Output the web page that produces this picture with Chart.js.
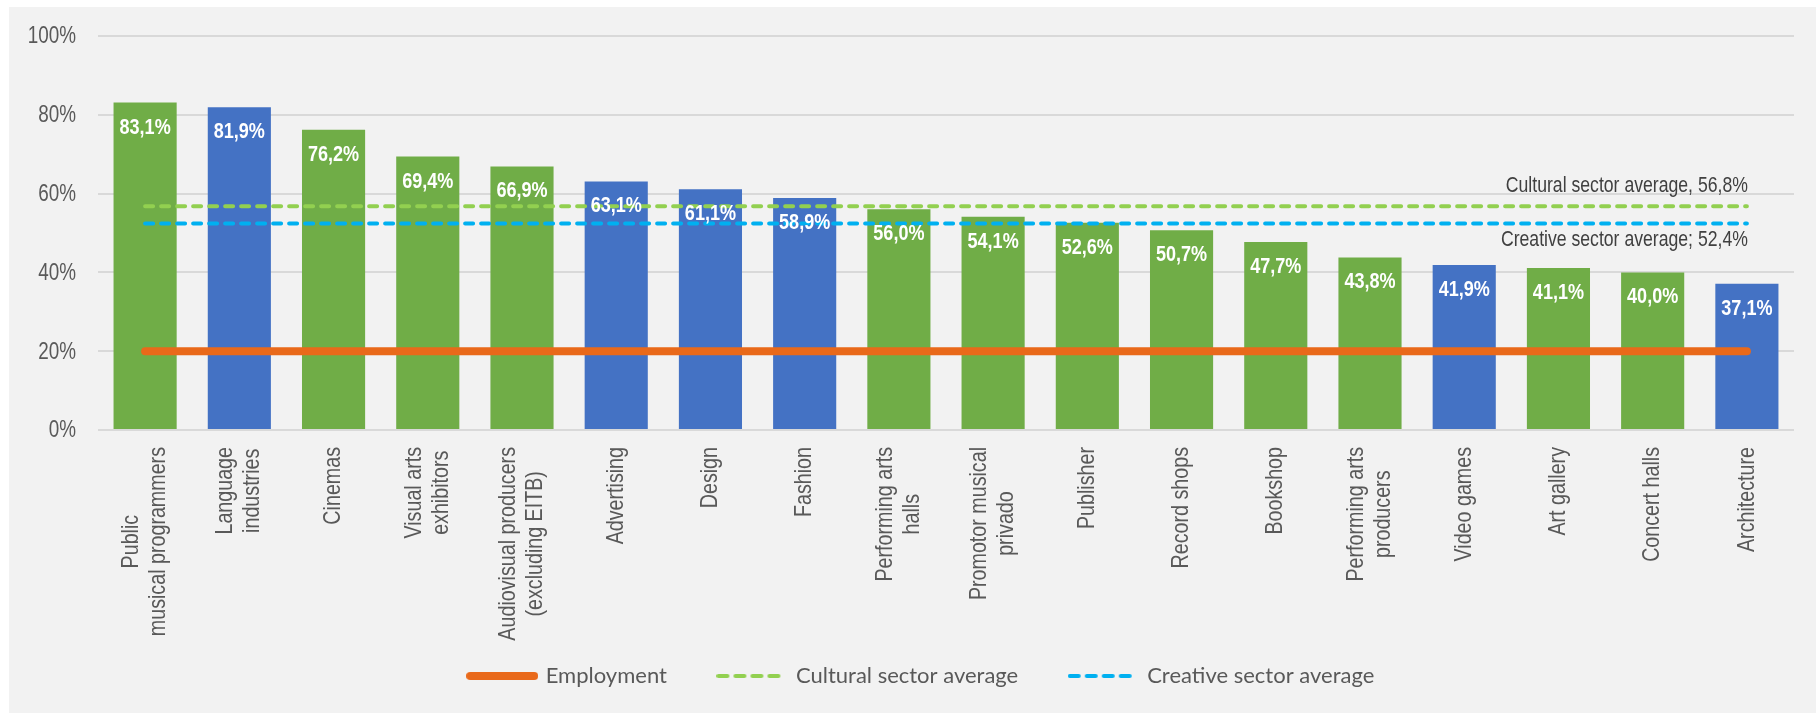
<!DOCTYPE html>
<html><head><meta charset="utf-8">
<script src="https://cdn.jsdelivr.net/npm/chart.js@4.4.0/dist/chart.umd.min.js"></script>
<style>html,body{margin:0;padding:0;background:#fff;} canvas{display:block;}</style>
</head><body>
<canvas id="c" width="1816" height="713"></canvas>
<script>
const categories = [["Public","musical programmers"],["Language","industries"],["Cinemas"],["Visual arts","exhibitors"],["Audiovisual producers","(excluding EITB)"],["Advertising"],["Design"],["Fashion"],["Performing arts","halls"],["Promotor musical","privado"],["Publisher"],["Record shops"],["Bookshop"],["Performing arts","producers"],["Video games"],["Art gallery"],["Concert halls"],["Architecture"]];
const sectorValues = [83.1,81.9,76.2,69.4,66.9,63.1,61.1,58.9,56.0,54.1,52.6,50.7,47.7,43.8,41.9,41.1,40.0,37.1];
const sectorType = ["cultural","creative","cultural","cultural","cultural","creative","creative","creative","cultural","cultural","cultural","cultural","cultural","cultural","creative","cultural","cultural","creative"];
const employment = [20,20,20,20,20,20,20,20,20,20,20,20,20,20,20,20,20,20];
const culturalAverage = [56.8,56.8,56.8,56.8,56.8,56.8,56.8,56.8,56.8,56.8,56.8,56.8,56.8,56.8,56.8,56.8,56.8,56.8];
const creativeAverage = [52.4,52.4,52.4,52.4,52.4,52.4,52.4,52.4,52.4,52.4,52.4,52.4,52.4,52.4,52.4,52.4,52.4,52.4];
const yTicks = [0,20,40,60,80,100];
const culturalLabel = "Cultural sector average, 56,8%";
const creativeLabel = "Creative sector average; 52,4%";

const SANS = '"Liberation Sans", Arial, sans-serif';
const SQUEEZE = 0.82; // emulate a narrow face
const typeColor = {cultural: '#70AD47', creative: '#4472C4'};
const fmt = v => v.toFixed(1).replace('.', ',') + '%';

function narrowText(ctx, text, x, y, align) {
  ctx.save();
  ctx.translate(x, y);
  ctx.scale(SQUEEZE, 1);
  ctx.textAlign = align;
  ctx.fillText(text, 0, 0);
  ctx.restore();
}

function legendSample(color, width, dash) {
  const c = document.createElement('canvas');
  c.width = 72; c.height = 12;
  const g = c.getContext('2d');
  g.strokeStyle = color;
  g.lineWidth = width;
  g.lineCap = 'round';
  g.setLineDash(dash);
  g.beginPath();
  g.moveTo(width / 2, 6);
  g.lineTo(72 - width / 2, 6);
  g.stroke();
  return c;
}

const bgPlugin = {
  id: 'bg',
  beforeDraw(chart) {
    const ctx = chart.ctx;
    ctx.save();
    ctx.fillStyle = '#F2F2F2';
    ctx.fillRect(9, 7, chart.width - 9, chart.height - 7);
    ctx.restore();
  }
};

const labelPlugin = {
  id: 'labels',
  afterDraw(chart) {
    const ctx = chart.ctx;
    ctx.save();
    ctx.textBaseline = 'middle';
    const ys = chart.scales.y;
    ctx.fillStyle = '#595959';
    ctx.font = '23px ' + SANS;
    yTicks.forEach(v => narrowText(ctx, v + '%', chart.chartArea.left - 22, ys.getPixelForValue(v) + 1, 'right'));
    const barMeta = chart.getDatasetMeta(3);
    ctx.fillStyle = '#FFFFFF';
    ctx.font = 'bold 22px ' + SANS;
    barMeta.data.forEach((el, i) => narrowText(ctx, fmt(sectorValues[i]), el.x, el.y + 25, 'center'));
    ctx.fillStyle = '#404040';
    ctx.font = '21.5px ' + SANS;
    const cm = chart.getDatasetMeta(1).data;
    const last = cm[cm.length - 1];
    narrowText(ctx, culturalLabel, last.x + 1, last.y - 20, 'right');
    const km = chart.getDatasetMeta(2).data;
    const last2 = km[km.length - 1];
    narrowText(ctx, creativeLabel, last2.x + 1, last2.y + 17, 'right');
    const xs = chart.scales.x;
    ctx.fillStyle = '#595959';
    ctx.font = '24px ' + SANS;
    const top = chart.chartArea.bottom + 17;
    categories.forEach((lines, i) => {
      const x = xs.getPixelForValue(i);
      const W = Math.max(...lines.map(l => ctx.measureText(l).width)) * SQUEEZE;
      ctx.save();
      ctx.translate(x, top);
      ctx.rotate(-Math.PI / 2);
      lines.forEach((l, j) => narrowText(ctx, l, -W / 2, (j - (lines.length - 1) / 2) * 27, 'center'));
      ctx.restore();
    });
    ctx.restore();
  }
};

new Chart(document.getElementById('c'), {
  type: 'bar',
  data: {
    labels: categories.map(l => l.join(' ')),
    datasets: [
      {type: 'line', label: 'Employment', data: employment, borderColor: '#E9691A', backgroundColor: '#E9691A',
       borderWidth: 8, borderCapStyle: 'round', pointRadius: 0, pointStyle: legendSample('#E9691A', 8, []), order: 0},
      {type: 'line', label: 'Cultural sector average', data: culturalAverage, borderColor: '#92D050', backgroundColor: '#92D050',
       borderWidth: 4, borderDash: [8, 8], borderCapStyle: 'round', pointRadius: 0, pointStyle: legendSample('#92D050', 4, [9, 8]), order: 1},
      {type: 'line', label: 'Creative sector average', data: creativeAverage, borderColor: '#00B0F0', backgroundColor: '#00B0F0',
       borderWidth: 4, borderDash: [8, 8], borderCapStyle: 'round', pointRadius: 0, pointStyle: legendSample('#00B0F0', 4, [9, 8]), order: 2},
      {type: 'bar', label: 'Sectors', data: sectorValues, backgroundColor: sectorType.map(t => typeColor[t]),
       borderWidth: 0, barPercentage: 0.67, categoryPercentage: 1, order: 10}
    ]
  },
  options: {
    responsive: false,
    animation: false,
    events: [],
    layout: {padding: {top: 36, left: 50, right: 22, bottom: 16}},
    plugins: {
      tooltip: {enabled: false},
      legend: {
        position: 'bottom',
        labels: {
          filter: item => item.text !== 'Sectors',
          usePointStyle: true,
          pointStyleWidth: 65,
          padding: 53,
          color: '#595959',
          font: {family: 'Lato, "Open Sans", sans-serif', size: 22}
        }
      }
    },
    scales: {
      x: {
        grid: {display: false},
        border: {display: false},
        ticks: {display: false},
        afterFit(s) { s.height = 182; }
      },
      y: {
        min: 0, max: 100,
        afterBuildTicks(s) { s.ticks = yTicks.map(v => ({value: v})); },
        grid: {color: '#D9D9D9', lineWidth: 2, drawTicks: false},
        border: {display: false},
        ticks: {display: false},
        afterFit(s) { s.width = 48; }
      }
    }
  },
  plugins: [bgPlugin, labelPlugin]
});
</script>
</body></html>
